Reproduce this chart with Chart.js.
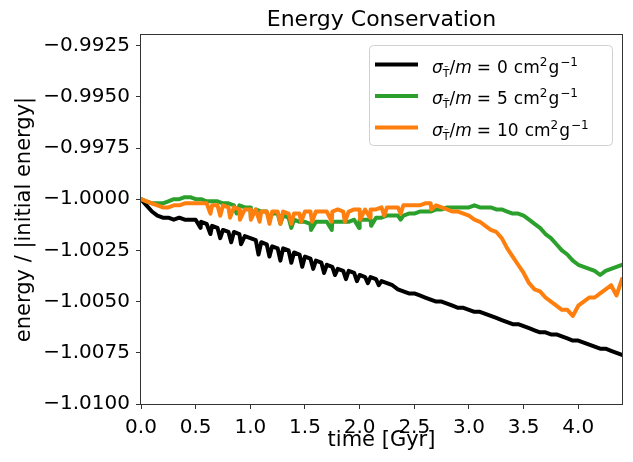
<!DOCTYPE html>
<html>
<head>
<meta charset="utf-8">
<script src="https://cdn.jsdelivr.net/npm/chart.js@4"></script>
<style>
  html, body { margin: 0; padding: 0; background: #fff; }
  #wrap { width: 633px; height: 462px; }
</style>
</head>
<body>
<div id="wrap"><canvas id="energyChart" width="633" height="462"></canvas></div>
<script>
// sample times (Gyr)
const times = [
  0.00, 0.05, 0.10, 0.15, 0.20, 0.25, 0.30, 0.35, 0.40, 0.45,
  0.50, 0.55, 0.60, 0.65, 0.70, 0.75, 0.80, 0.85, 0.90, 0.95,
  1.00, 1.05, 1.10, 1.15, 1.20, 1.25, 1.30, 1.35, 1.40, 1.45,
  1.50, 1.55, 1.60, 1.65, 1.70, 1.75, 1.80, 1.85, 1.90, 1.95,
  2.00, 2.05, 2.10, 2.15, 2.20, 2.25, 2.30, 2.35, 2.40, 2.45,
  2.50, 2.55, 2.60, 2.65, 2.70, 2.75, 2.80, 2.85, 2.90, 2.95,
  3.00, 3.05, 3.10, 3.15, 3.20, 3.25, 3.30, 3.35, 3.40, 3.45,
  3.50, 3.55, 3.60, 3.65, 3.70, 3.75, 3.80, 3.85, 3.90, 3.95,
  4.00, 4.05, 4.10, 4.15, 4.20, 4.25, 4.30, 4.35, 4.40
];

// sigma/m = 0
const energy0 = [
  -1.0000, -1.0003, -1.0006, -1.0008, -1.0009, -1.0009, -1.0010, -1.0009, -1.0010, -1.0010,
  -1.0010, -1.0011, -1.0012, -1.0013, -1.0014, -1.0015, -1.0016, -1.0016, -1.0017, -1.0018,
  -1.0019, -1.0020, -1.0021, -1.0022, -1.0023, -1.0024, -1.0024, -1.0025, -1.0026, -1.0027,
  -1.0028, -1.0029, -1.0030, -1.0031, -1.0032, -1.0033, -1.0034, -1.0035, -1.0035, -1.0036,
  -1.0037, -1.0038, -1.0038, -1.0039, -1.0040, -1.0041, -1.0042, -1.0044, -1.0045, -1.0046,
  -1.0046, -1.0047, -1.0048, -1.0049, -1.0050, -1.0050, -1.0051, -1.0052, -1.0053, -1.0053,
  -1.0054, -1.0055, -1.0055, -1.0056, -1.0057, -1.0058, -1.0059, -1.0060, -1.0061, -1.0061,
  -1.0062, -1.0063, -1.0064, -1.0065, -1.0065, -1.0066, -1.0066, -1.0067, -1.0068, -1.0069,
  -1.0069, -1.0070, -1.0071, -1.0072, -1.0073, -1.0073, -1.0074, -1.0075, -1.0076
];
const dipTimes0 = [0.545, 0.635, 0.725, 0.825, 0.915, 1.075, 1.175, 1.275, 1.375,
                   1.475, 1.575, 1.675, 1.775, 1.875, 1.975, 2.075, 2.175];
const dipValues0 = [-1.0014, -1.0017, -1.0019, -1.0021, -1.0022, -1.0027, -1.0028, -1.0030, -1.0031,
                    -1.0033, -1.0034, -1.0036, -1.0037, -1.0039, -1.0040, -1.0041, -1.0042];

// sigma/m = 5
const energy5 = [
  -1.0000, -1.0001, -1.0002, -1.0002, -1.0002, -1.0001, -1.0000, -1.0000, -0.9999, -0.9999,
  -1.0000, -1.0000, -1.0001, -1.0001, -1.0001, -1.0002, -1.0002, -1.0003, -1.0003, -1.0004,
  -1.0004, -1.0005, -1.0006, -1.0006, -1.0007, -1.0007, -1.0008, -1.0009, -1.0010, -1.0011,
  -1.0011, -1.0012, -1.0011, -1.0011, -1.0011, -1.0011, -1.0011, -1.0011, -1.0011, -1.0010,
  -1.0010, -1.0010, -1.0010, -1.0009, -1.0009, -1.0008, -1.0008, -1.0008, -1.0008, -1.0007,
  -1.0007, -1.0006, -1.0006, -1.0006, -1.0005, -1.0005, -1.0004, -1.0004, -1.0004, -1.0004,
  -1.0004, -1.0003, -1.0004, -1.0004, -1.0004, -1.0005, -1.0005, -1.0006, -1.0007, -1.0007,
  -1.0008, -1.0010, -1.0012, -1.0014, -1.0017, -1.0019, -1.0022, -1.0025, -1.0027, -1.0030,
  -1.0032, -1.0033, -1.0034, -1.0035, -1.0037, -1.0035, -1.0034, -1.0033, -1.0032
];
const dipTimes5 = [0.875, 1.005, 1.175, 1.275, 1.375, 1.555, 1.745, 1.995, 2.105, 2.375];
const dipValues5 = [-1.0007, -1.0009, -1.0010, -1.0012, -1.0014, -1.0015, -1.0015, -1.0014, -1.0013, -1.0010];

// sigma/m = 10
const energy10 = [
  -1.0000, -1.0001, -1.0002, -1.0003, -1.0004, -1.0004, -1.0003, -1.0003, -1.0002, -1.0002,
  -1.0002, -1.0002, -1.0002, -1.0003, -1.0003, -1.0003, -1.0004, -1.0004, -1.0005, -1.0005,
  -1.0005, -1.0005, -1.0006, -1.0006, -1.0006, -1.0006, -1.0006, -1.0007, -1.0007, -1.0007,
  -1.0006, -1.0006, -1.0006, -1.0006, -1.0006, -1.0006, -1.0005, -1.0006, -1.0006, -1.0005,
  -1.0005, -1.0005, -1.0005, -1.0005, -1.0004, -1.0004, -1.0004, -1.0004, -1.0003, -1.0003,
  -1.0003, -1.0003, -1.0002, -1.0002, -1.0003, -1.0004, -1.0005, -1.0006, -1.0006, -1.0007,
  -1.0008, -1.0010, -1.0011, -1.0013, -1.0015, -1.0016, -1.0019, -1.0024, -1.0028, -1.0032,
  -1.0036, -1.0041, -1.0044, -1.0045, -1.0048, -1.0050, -1.0052, -1.0054, -1.0054, -1.0057,
  -1.0052, -1.0050, -1.0048, -1.0048, -1.0046, -1.0044, -1.0042, -1.0047, -1.0039
];
const dipTimes10 = [0.635, 0.725, 0.815, 0.905, 1.005, 1.085, 1.175, 1.275, 1.375,
                    1.465, 1.565, 1.745, 1.865, 2.005, 2.095, 2.225, 2.375, 2.655];
const dipValues10 = [-1.0007, -1.0008, -1.0009, -1.0010, -1.0010, -1.0011, -1.0012, -1.0012, -1.0012,
                     -1.0011, -1.0011, -1.0011, -1.0011, -1.0010, -1.0009, -1.0008, -1.0007, -1.0005];

const xTicks = [0.0, 0.5, 1.0, 1.5, 2.0, 2.5, 3.0, 3.5, 4.0];
const yTicks = [-1.0100, -1.0075, -1.0050, -1.0025, -1.0000, -0.9975, -0.9950, -0.9925];
const legendValues = ["0", "5", "10"];
const colors = ["#000000", "#2ca02c", "#ff7f0e"];

function buildSeries(t, v, dt, dv) {
  const pts = t.map((x, i) => ({ x: x, y: v[i] }));
  dt.forEach((x, i) => pts.push({ x: x, y: dv[i] }));
  pts.sort((a, b) => a.x - b.x);
  return pts;
}

const FONT = "'DejaVu Sans', 'Liberation Sans', sans-serif";
Chart.defaults.font.family = FONT;
Chart.defaults.color = "#000";

const textPlugin = {
  id: "textPlugin",
  afterDraw(chart) {
    const ctx = chart.ctx;
    const a = chart.chartArea;
    ctx.save();
    // frame
    ctx.strokeStyle = "#333";
    ctx.lineWidth = 1;
    ctx.strokeRect(Math.round(a.left) - 0.5, Math.round(a.top) - 0.5,
      Math.round(a.right) - Math.round(a.left) + 1, Math.round(a.bottom) - Math.round(a.top) + 1);

    // title
    ctx.fillStyle = "#000";
    ctx.textAlign = "center";
    ctx.textBaseline = "alphabetic";
    ctx.font = "22px " + FONT;
    ctx.fillText("Energy Conservation", (a.left + a.right) / 2, 26);

    // axis titles
    ctx.font = "21px " + FONT;
    ctx.fillText("time [Gyr]", (a.left + a.right) / 2, 446);
    ctx.save();
    ctx.translate(30, (a.top + a.bottom) / 2);
    ctx.rotate(-Math.PI / 2);
    ctx.fillText("energy / |initial energy|", 0, 0);
    ctx.restore();

    // legend
    const bx = 369.5, by = 45.5, bw = 243, bh = 100, r = 4;
    ctx.beginPath();
    ctx.moveTo(bx + r, by);
    ctx.arcTo(bx + bw, by, bx + bw, by + bh, r);
    ctx.arcTo(bx + bw, by + bh, bx, by + bh, r);
    ctx.arcTo(bx, by + bh, bx, by, r);
    ctx.arcTo(bx, by, bx + bw, by, r);
    ctx.closePath();
    ctx.fillStyle = "rgba(255,255,255,0.8)";
    ctx.fill();
    ctx.strokeStyle = "#d0d0d0";
    ctx.stroke();

    const rows = [64.5, 96, 127.5];
    ctx.textAlign = "left";
    legendValues.forEach((val, i) => {
      const y = rows[i];
      ctx.strokeStyle = colors[i];
      ctx.lineWidth = 4;
      ctx.beginPath();
      ctx.moveTo(375, y);
      ctx.lineTo(418, y);
      ctx.stroke();

      ctx.fillStyle = "#000";
      const base = y + 8;
      let x = 432;
      const put = (s, font, dy) => {
        ctx.font = font;
        ctx.fillText(s, x, base + dy);
        x += ctx.measureText(s).width;
      };
      put("σ", "italic 17px " + FONT, 0);
      put("T\u0303", "11px " + FONT, 4);
      put("/", "17px " + FONT, 0);
      put("m", "italic 17px " + FONT, 0);
      x += 5;
      put("=", "17px " + FONT, 0);
      x += 6;
      put(val, "17px " + FONT, 0);
      x += 6;
      put("cm", "17px " + FONT, 0);
      put("2", "12px " + FONT, -7);
      x += 1;
      put("g", "17px " + FONT, 0);
      x += 1;
      put("\u22121", "12px " + FONT, -7);
    });
    ctx.restore();
  }
};

new Chart(document.getElementById("energyChart"), {
  type: "line",
  data: {
    datasets: [
      { data: buildSeries(times, energy0, dipTimes0, dipValues0), borderColor: colors[0], order: 3 },
      { data: buildSeries(times, energy5, dipTimes5, dipValues5), borderColor: colors[1], order: 2 },
      { data: buildSeries(times, energy10, dipTimes10, dipValues10), borderColor: colors[2], order: 1 }
    ]
  },
  options: {
    responsive: false,
    animation: false,
    events: [],
    layout: { padding: { top: 35, right: 11, left: 0, bottom: 0 } },
    elements: {
      line: { borderWidth: 4, tension: 0, borderJoinStyle: "round", borderCapStyle: "round" },
      point: { radius: 0 }
    },
    plugins: { legend: { display: false }, tooltip: { enabled: false }, title: { display: false } },
    scales: {
      x: {
        type: "linear",
        min: 0,
        max: 4.4,
        afterBuildTicks: (scale) => { scale.ticks = xTicks.map(v => ({ value: v })); },
        afterFit: (scale) => { scale.height = 58; },
        grid: { drawOnChartArea: false, drawTicks: true, tickLength: 5, tickColor: "#333" },
        border: { display: false },
        ticks: {
          font: { size: 20 },
          color: "#000",
          padding: 7,
          maxRotation: 0,
          autoSkip: false,
          callback: (v) => Number(v).toFixed(1)
        }
      },
      y: {
        type: "linear",
        min: -1.0100,
        max: -0.99198,
        afterBuildTicks: (scale) => { scale.ticks = yTicks.map(v => ({ value: v })); },
        afterFit: (scale) => { scale.width = 141; },
        grid: { drawOnChartArea: false, drawTicks: true, tickLength: 5, tickColor: "#333" },
        border: { display: false },
        ticks: {
          font: { size: 20 },
          color: "#000",
          padding: 6,
          autoSkip: false,
          callback: (v) => (v < 0 ? "\u2212" : "") + Math.abs(v).toFixed(4)
        }
      }
    }
  },
  plugins: [textPlugin]
});
</script>
</body>
</html>
